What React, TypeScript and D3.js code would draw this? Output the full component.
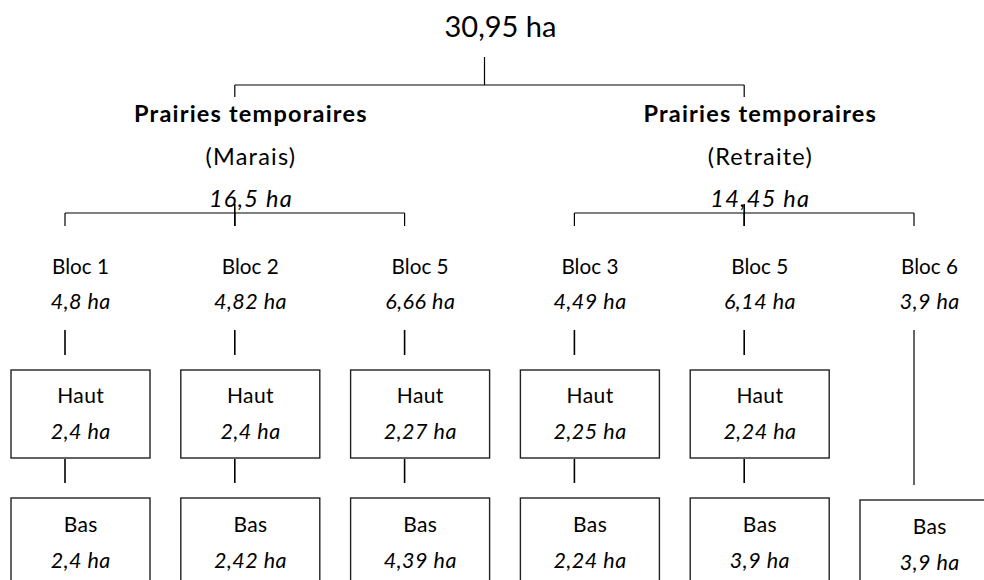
import React from "react";
import * as d3 from "d3";

const rootLabel = "30,95 ha";
const groupTitles = ["Prairies temporaires", "Prairies temporaires"];
const groupSubs = ["(Marais)", "(Retraite)"];
const groupAreas = ["16,5 ha", "14,45 ha"];
const blocNames = ["Bloc 1", "Bloc 2", "Bloc 5", "Bloc 3", "Bloc 5", "Bloc 6"];
const blocAreas = ["4,8 ha", "4,82 ha", "6,66 ha", "4,49 ha", "6,14 ha", "3,9 ha"];
const blocGroup = [0, 0, 0, 1, 1, 1];
const hautAreas = ["2,4 ha", "2,4 ha", "2,27 ha", "2,25 ha", "2,24 ha", ""];
const basAreas = ["2,4 ha", "2,42 ha", "4,39 ha", "2,24 ha", "3,9 ha", "3,9 ha"];
const levelLabels = ["Haut", "Bas"];

const W = 984;
const H = 580;
const FONT = "Lato, 'Open Sans', sans-serif";
const BOX_W = 139;
const TEXT_OFF = 15.5;

type TOpts = { bold?: boolean; italic?: boolean; ls?: number };

export default function App() {
  const x = d3
    .scalePoint<number>()
    .domain(d3.range(blocNames.length))
    .range([80.5, 929.5]);
  const lx = (i: number) => (x(i) as number) - TEXT_OFF;

  const groups = d3.range(groupTitles.length).map((g) => {
    const idx = blocNames.map((_, i) => i).filter((i) => blocGroup[i] === g);
    const mid = idx[Math.floor(idx.length / 2)];
    return { g, idx, lineX: lx(mid), textX: lx(mid) + TEXT_OFF };
  });
  const rootX = 484.5;

  const line = (x1: number, y1: number, x2: number, y2: number, w = 1.2, key?: string) => (
    <line key={key} x1={x1} y1={y1} x2={x2} y2={y2} stroke="#000" strokeWidth={w} />
  );

  const txt = (s: string, cx: number, y: number, size: number, opts: TOpts = {}, key?: string) => (
    <text
      key={key}
      x={cx + (opts.ls || 0) / 2}
      y={y}
      textAnchor="middle"
      fontFamily={FONT}
      fontSize={size}
      fontWeight={opts.bold ? 700 : 400}
      fontStyle={opts.italic ? "italic" : "normal"}
      letterSpacing={opts.ls || 0}
      fill="#000"
    >
      {s}
    </text>
  );

  const boxStroke = { fill: "none", stroke: "#222", strokeWidth: 1.4 };

  return (
    <svg
      width={W}
      height={H}
      style={{ position: "absolute", left: 0, top: 0, background: "#fff" }}
    >
      <rect width={W} height={H} fill="#fff" />
      {txt(rootLabel, rootX + 16, 37, 29)}
      {line(rootX, 57, rootX, 85, 1.2)}
      {line(groups[0].lineX, 85, groups[groups.length - 1].lineX, 85, 1.2)}
      {groups.map((gr) => (
        <g key={"g" + gr.g}>
          {line(gr.lineX, 85, gr.lineX, 97, 1.2)}
          {txt(groupTitles[gr.g], gr.textX, 122, 23.5, { bold: true, ls: 1.2 })}
          {txt(groupSubs[gr.g], gr.textX, 165, 23.5, { ls: 1.2 })}
          {txt(groupAreas[gr.g], gr.textX, 207, 23.5, { italic: true, ls: 1.3 })}
          {line(gr.lineX, 204, gr.lineX, 226, 1.6)}
          {line(lx(gr.idx[0]), 213, lx(gr.idx[gr.idx.length - 1]), 213, 1.2)}
          {gr.idx.map((i) => line(lx(i), 213, lx(i), 226, 1.2, "t" + i))}
        </g>
      ))}
      {blocNames.map((name, i) => {
        const cx = x(i) as number;
        const hasHaut = hautAreas[i] !== "";
        const basTop = hasHaut ? 498 : 500;
        return (
          <g key={"b" + i}>
            {txt(name, cx, 274, 20.7)}
            {txt(blocAreas[i], cx, 309, 21.5, { italic: true, ls: 0.5 })}
            {hasHaut ? (
              <>
                {line(lx(i), 330, lx(i), 355, 1.6)}
                <rect x={cx - BOX_W / 2} y={370} width={BOX_W} height={88} {...boxStroke} />
                {txt(levelLabels[0], cx, 403, 21, { ls: 0.4 })}
                {txt(hautAreas[i], cx, 439, 21.5, { italic: true, ls: 0.5 })}
                {line(lx(i), 459, lx(i), 483, 1.6)}
              </>
            ) : (
              line(lx(i), 330, lx(i), 485, 1.2)
            )}
            <rect x={cx - BOX_W / 2} y={basTop} width={BOX_W} height={110} {...boxStroke} />
            {txt(levelLabels[1], cx, basTop + 34, 21, { ls: 0.4 })}
            {txt(basAreas[i], cx, basTop + 70, 21.5, { italic: true, ls: 0.5 })}
          </g>
        );
      })}
    </svg>
  );
}
